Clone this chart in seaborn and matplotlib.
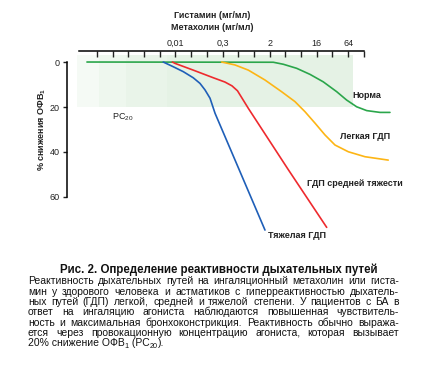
import numpy as np
import pandas as pd
import seaborn as sns
import matplotlib.pyplot as plt

sns.set_theme(style='white')
plt.rcParams['font.family'] = ['Liberation Sans', 'DejaVu Sans']
plt.rcParams['mathtext.fontset'] = 'custom'
plt.rcParams['mathtext.rm'] = 'Liberation Sans'
plt.rcParams['mathtext.bf'] = 'Liberation Sans:bold'

#---------------------Datos (x = número de paso de dosis)------------------
tick_pos = list(range(18))
tick_lab = {5: '0,01', 8: '0,3', 11: '2', 14: '16', 16: '64'}

norma_x = [-0.64, 11.23, 11.87, 12.72, 13.57, 14.41, 15.27, 15.90, 16.54, 17.18, 18.03, 18.66]
norma_y = [0, 0.1, 1.0, 2.8, 5.5, 8.8, 13.2, 16.9, 19.9, 21.6, 22.4, 22.4]

legkaya_x = [7.94, 8.79, 9.64, 10.70, 11.76, 12.61, 13.25, 13.89, 14.52, 15.16, 16.01, 17.07, 18.55]
legkaya_y = [0, 1.3, 3.6, 8.0, 13.2, 17.6, 22.1, 27.2, 32.4, 36.9, 39.9, 42.1, 43.6]

srednyaya_x = [4.8, 4.97, 6.13, 7.41, 8.15, 8.60, 8.95, 9.64, 12.18, 14.63]
srednyaya_y = [0, 0.6, 3.6, 7.0, 8.9, 10.6, 12.8, 20.6, 47.8, 73.5]

tyazhelaya_x = [4.22, 4.86, 5.5, 6.13, 6.56, 6.88, 7.2, 7.52, 10.7]
tyazhelaya_y = [0, 2.1, 4.3, 7.0, 9.5, 12.4, 16.1, 22.8, 74.7]

curvas = [
    (norma_x, norma_y, '#2ba64b', 'Норма', 16.24, 15.0),
    (legkaya_x, legkaya_y, '#fdb515', 'Легкая ГДП', 15.48, 32.9),
    (srednyaya_x, srednyaya_y, '#ee2a2e', 'ГДП средней тяжести', 13.38, 53.9),
    (tyazhelaya_x, tyazhelaya_y, '#1f5fb8', 'Тяжелая ГДП', 10.9, 77.2),
]

W, H = 429, 389
fig = plt.figure(figsize=(W / 100, H / 100), dpi=100)
ax = fig.add_axes([67 / W, 1 - 235 / H, (400 - 67) / W, (235 - 51) / H])

# zona sombreada (gradiente por bandas)
bandas = [(-1.27, 0.13, '#f5faf5'), (0.13, 1.85, '#eef7ee'),
          (1.85, 4.46, '#e9f4e9'), (4.46, 16.3, '#e5f2e5')]
for a, b, c in bandas:
    ax.fill_between([a, b], -3.3, 20, color=c, lw=0, zorder=0)

for x, y, c, nombre, tx, ty in curvas:
    sns.lineplot(x=x, y=y, sort=False, color=c, lw=1.2, ax=ax, zorder=3)
    ax.text(tx, ty, nombre, fontsize=6.5, fontweight='bold', va='center',
            ha='left', color='#222222')

ax.text(0.94, 24.6, 'PC$_{20}$', fontsize=6.5, va='center', color='#222222')

ax.set_xlim(-1.91, 19.3)
ax.set_ylim(76.9, -4.9)
ax.xaxis.tick_top()
ax.set_xticks(tick_pos)
ax.set_xticklabels([tick_lab.get(t, '') for t in tick_pos])
ax.set_yticks([0, 20, 40, 60])
ax.tick_params(axis='x', direction='in', length=4, width=1, pad=2,
               labelsize=6.5, colors='#222222')
ax.tick_params(axis='y', direction='out', length=3, width=1, pad=2,
               labelsize=6.5, left=True, colors='#222222')
for s in ['right', 'bottom']:
    ax.spines[s].set_visible(False)
ax.spines['top'].set_bounds(-1.15, 17)
ax.spines['left'].set_bounds(0, 60)
for s in ['top', 'left']:
    ax.spines[s].set_color('black')
    ax.spines[s].set_linewidth(1.1)
ax.set_xlabel('')
ax.set_ylabel('')

fig.text(42 / W, 1 - 129.5 / H, '% снижения ОФВ$_\\mathbf{1}$', rotation=90,
         fontsize=6.5, fontweight='bold', ha='center', va='center', color='#222222')
fig.text(212 / W, 1 - 15 / H, 'Гистамин (мг/мл)', fontsize=6.5,
         fontweight='bold', ha='center', va='center', color='#222222')
fig.text(212 / W, 1 - 27 / H, 'Метахолин (мг/мл)', fontsize=6.5,
         fontweight='bold', ha='center', va='center', color='#222222')

#---------------------Pie de figura------------------
fig.text(219 / W, 1 - 270 / H, 'Рис. 2. Определение реактивности дыхательных путей',
         fontsize=8.3, fontweight='bold', ha='center', va='center', color='#111111')

lineas = [
    'Реактивность дыхательных путей на ингаляционный метахолин или гиста-',
    'мин у здорового человека и астматиков с гиперреактивностью дыхатель-',
    'ных путей (ГДП) легкой, средней и тяжелой степени. У пациентов с БА в',
    'ответ на ингаляцию агониста наблюдаются повышенная чувствитель-',
    'ность и максимальная бронхоконстрикция. Реактивность обычно выража-',
    'ется через провокационную концентрацию агониста, которая вызывает',
]
# última línea en trozos: (texto, es_subíndice)
ultima = [('20% снижение ОФВ', False), ('1', True), (' (PC', False),
          ('20', True), (').', False)]
lineas_y = [280, 291, 301.5, 311.7, 322, 332.3, 342.7]
x0, x1 = 28, 399
fs = 7.5

r = fig.canvas.get_renderer()
for txt, yy in zip(lineas, lineas_y):
    base = 1 - (yy + 3.6) / H
    palabras = txt.split(' ')
    objs = [fig.text(0, base, p, fontsize=fs, va='baseline', ha='left',
                     color='#111111') for p in palabras]
    anchos = [o.get_window_extent(r).width for o in objs]
    hueco = ((x1 - x0) - sum(anchos)) / (len(palabras) - 1)
    xx = x0
    for o, w in zip(objs, anchos):
        o.set_x(xx / W)
        xx += w + hueco

xx = x0
yy = lineas_y[-1] + 3.6
for trozo, sub in ultima:
    size = fs * 0.7 if sub else fs
    dy = 2.0 if sub else 0
    o = fig.text(xx / W, 1 - (yy + dy) / H, trozo, fontsize=size, va='baseline',
                 ha='left', color='#111111')
    xx += o.get_window_extent(r).width

fig.savefig('out.png', dpi=100)
